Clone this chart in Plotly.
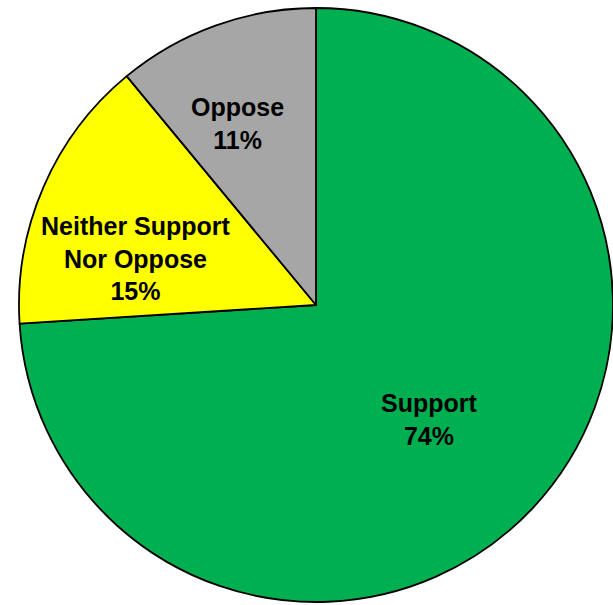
import math
import plotly.graph_objects as go

# Survey responses
categories = ["Support", "Neither Support<br>Nor Oppose", "Oppose"]
shares = [74, 15, 11]
slice_colors = ["#00B050", "#FFFF00", "#A6A6A6"]

# Label placement inside each slice: (radius fraction, angle nudge in degrees)
label_layout = [(0.542, 2.3), (0.627, -8.8), (0.667, -3.7)]

W, H = 613, 605
cx, cy, R = 316, 305, 297  # pie centre and radius in pixels

fig = go.Figure(
    go.Pie(
        labels=categories,
        values=shares,
        sort=False,
        direction="clockwise",
        rotation=0,
        textinfo="none",
        hoverinfo="label+percent",
        marker=dict(colors=slice_colors, line=dict(color="#000000", width=1.8)),
        domain=dict(x=[(cx - R) / W, 1.0], y=[1 - (cy + R) / H, 1 - (cy - R) / H]),
        showlegend=False,
    )
)

# Labels positioned from the cumulative slice angles
total = sum(shares)
start = 0.0
annotations = []
for name, val, (rf, nudge) in zip(categories, shares, label_layout):
    mid = start + val / total * 360 / 2 + nudge
    start += val / total * 360
    th = math.radians(mid)
    px = cx + rf * R * math.sin(th)
    py = cy - rf * R * math.cos(th)
    annotations.append(
        dict(
            x=px / W,
            y=1 - py / H,
            xref="paper",
            yref="paper",
            text=f"<b>{name}<br>{val}%</b>",
            showarrow=False,
            align="center",
            xanchor="center",
            yanchor="middle",
            font=dict(family="Liberation Sans, Arial, sans-serif", size=25, color="#000000"),
        )
    )

fig.update_layout(
    width=W,
    height=H,
    margin=dict(l=0, r=0, t=0, b=0),
    paper_bgcolor="#FFFFFF",
    plot_bgcolor="#FFFFFF",
    annotations=annotations,
)

fig.write_html("out.html")
